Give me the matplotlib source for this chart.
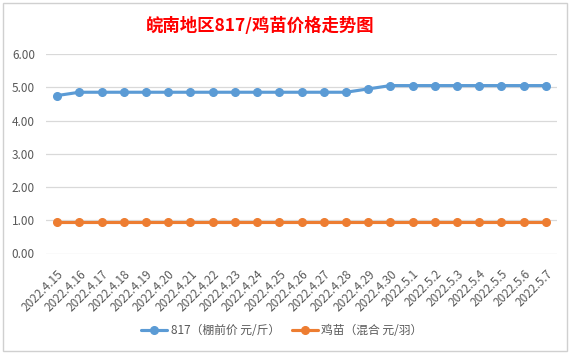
import matplotlib
matplotlib.use("Agg")
import matplotlib.pyplot as plt
from matplotlib.patches import Rectangle

plt.rcParams['font.family'] = ['Noto Sans CJK SC', 'DejaVu Sans']

dates = ["2022.4.15", "2022.4.16", "2022.4.17", "2022.4.18", "2022.4.19", "2022.4.20",
         "2022.4.21", "2022.4.22", "2022.4.23", "2022.4.24", "2022.4.25", "2022.4.26",
         "2022.4.27", "2022.4.28", "2022.4.29", "2022.4.30", "2022.5.1", "2022.5.2",
         "2022.5.3", "2022.5.4", "2022.5.5", "2022.5.6", "2022.5.7"]
price_817 = [4.75, 4.85, 4.85, 4.85, 4.85, 4.85, 4.85, 4.85, 4.85, 4.85, 4.85, 4.85,
             4.85, 4.85, 4.95, 5.05, 5.05, 5.05, 5.05, 5.05, 5.05, 5.05, 5.05]
price_chick = [0.95] * 23
series_names = ["817（棚前价 元/斤）", "鸡苗（混合 元/羽）"]
y_ticks = [0, 1, 2, 3, 4, 5, 6]
title = "皖南地区817/鸡苗价格走势图"

W, H = 575, 354
fig = plt.figure(figsize=(W / 100, H / 100), dpi=100)
fig.patch.set_facecolor('white')

# chart area border
fig.patches.append(Rectangle((3 / W, 3 / H), (567 - 3) / W, (351 - 3) / H,
                             transform=fig.transFigure, fill=False,
                             edgecolor='#D0D0D0', linewidth=1.0))

ax = fig.add_axes([46 / W, (H - 253.5) / H, (557 - 46) / W, (253.5 - 54) / H])
x = list(range(len(dates)))
blue = '#5B9BD5'
orange = '#ED7D31'
ax.plot(x, price_817, color=blue, linewidth=2.25, marker='o', markersize=5.5,
        label=series_names[0], solid_capstyle='round', zorder=3)
ax.plot(x, price_chick, color=orange, linewidth=2.25, marker='o', markersize=5.5,
        label=series_names[1], solid_capstyle='round', zorder=3)

ax.set_xlim(-0.5, len(dates) - 0.5)
ax.set_ylim(0, 6)
ax.set_yticks(y_ticks)
ax.set_yticklabels([f"{v:.2f}" for v in y_ticks])
ax.set_xticks(x)
ax.set_xticklabels(dates, rotation=45, ha='right', va='top', rotation_mode='anchor')
ax.tick_params(axis='both', length=0, labelsize=8.5, labelcolor='#595959')
ax.tick_params(axis='x', pad=10)
ax.tick_params(axis='y', pad=8)
for s in ax.spines.values():
    s.set_visible(False)
ax.grid(axis='y', color='#D9D9D9', linewidth=0.9)
ax.set_axisbelow(True)

fig.text(260 / W, 1 - 26 / H, title, color='#FF0000', fontsize=12.5, fontweight='bold',
         ha='center', va='center')

leg = fig.legend(loc='center', bbox_to_anchor=(282 / W, 1 - 331 / H), ncol=2,
                 frameon=False, fontsize=8.5, handlelength=2.2, columnspacing=1.0,
                 handletextpad=0.3)
for t in leg.get_texts():
    t.set_color('#595959')

fig.savefig('out.png', dpi=100, facecolor='white')
